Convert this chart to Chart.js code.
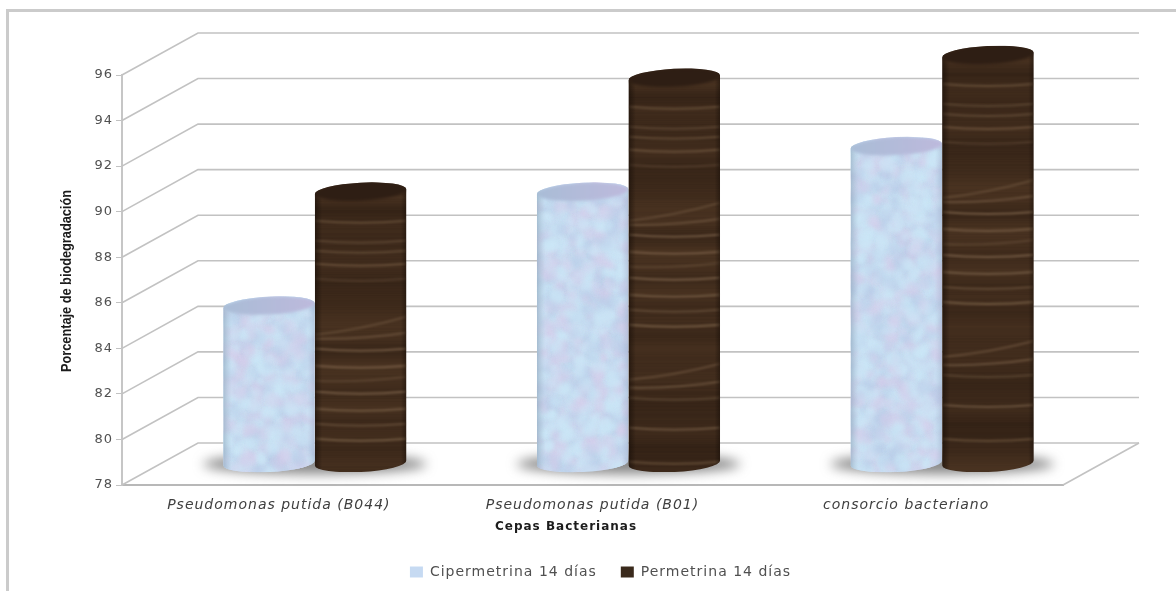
<!DOCTYPE html>
<html>
<head>
<meta charset="utf-8">
<style>
  html, body { margin: 0; padding: 0; background: #fff; }
  canvas { display: block; }
</style>
<script src="https://cdn.jsdelivr.net/npm/chart.js@4/dist/chart.umd.js"></script>
</head>
<body>
<canvas id="myChart" width="1176" height="591"></canvas>
<script>
const categories = ['Pseudomonas putida (B044)', 'Pseudomonas putida (B01)', 'consorcio bacteriano'];
const cipermetrina = [85, 90, 92];
const permetrina = [90, 95, 96];
const yMin = 78;
const yMax = 96;
const yStep = 2;
const xTitle = 'Cepas Bacterianas';
const yTitle = 'Porcentaje de biodegradación';

// 3D box offsets: back wall relative to the front axes, and bars relative to the front axes
const wallX = 76, wallY = 42;
const barX = 36, barY = 20;
const floorLift = 2;
const capRadius = 9;
const tilt = 3 * Math.PI / 180;
const gridColor = '#c2c2c2';

// wood grain lines, distance from the top of the column; second value is the rise to the right
const grain = [[32, 0], [52, 0], [62, 0], [75, 0], [90, 0], [137, 18], [147, 6], [160, 0], [177, 0], [190, 4],
    [203, 0], [220, 0], [235, 0], [250, 0], [297, 16], [310, 6], [323, 0], [353, 0], [387, 0]];

function hash(n) {
    const s = Math.sin(n * 12.9898) * 43758.5453;
    return s - Math.floor(s);
}

function cylinderPath(ctx, x, w, top, base) {
    const dy = Math.tan(tilt) * w / 2;
    ctx.beginPath();
    ctx.ellipse(x, top, w / 2, capRadius, -tilt, Math.PI, 2 * Math.PI);
    ctx.lineTo(x + w / 2, base - dy);
    ctx.ellipse(x, base, w / 2, capRadius, -tilt, 0, Math.PI);
    ctx.lineTo(x - w / 2, top + dy);
    ctx.closePath();
}

function capPath(ctx, x, w, top) {
    ctx.beginPath();
    ctx.ellipse(x, top, w / 2, capRadius, -tilt, 0, 2 * Math.PI);
}

function drawWood(ctx, x, w, top, base) {
    const left = x - w / 2;
    const startY = top - capRadius;
    for (let y = Math.floor(startY); y < base + capRadius; y++) {
        const d = y - startY;
        const a = hash(Math.floor(d / 14)), b = hash(Math.floor(d / 14) + 1);
        const t = d / 14 - Math.floor(d / 14);
        const k = 0.85 * (a + (b - a) * t) + 0.15 * hash(d + 5);
        const r = Math.round(50 + 24 * k), g = Math.round(33 + 18 * k), b2 = Math.round(21 + 12 * k);
        ctx.fillStyle = `rgb(${r},${g},${b2})`;
        ctx.fillRect(left, y, w, 1);
    }
    ctx.save();
    ctx.filter = 'blur(0.9px)';
    ctx.lineWidth = 2;
    grain.forEach(([d, rise], i) => {
        const y = startY + 6 + d;
        if (y > base + capRadius) return;
        ctx.strokeStyle = `rgba(132,106,80,${0.25 + 0.5 * hash(i + 3)})`;
        ctx.beginPath();
        ctx.moveTo(left, y + rise / 2);
        ctx.quadraticCurveTo(x, y + 4, left + w, y - rise / 2);
        ctx.stroke();
    });
    ctx.restore();
    const shade = ctx.createLinearGradient(left, 0, left + w, 0);
    shade.addColorStop(0, 'rgba(18,10,5,0.55)');
    shade.addColorStop(0.08, 'rgba(18,10,5,0)');
    shade.addColorStop(0.94, 'rgba(18,10,5,0)');
    shade.addColorStop(1, 'rgba(18,10,5,0.45)');
    ctx.fillStyle = shade;
    ctx.fillRect(left, startY, w, base + capRadius - startY);
}

function drawMottle(ctx, x, w, top, base) {
    const left = x - w / 2;
    const startY = top - capRadius;
    const h = base + capRadius - startY;
    ctx.fillStyle = '#c9dcf1';
    ctx.fillRect(left, startY, w, h);
    const count = Math.round(w * h / 30);
    ctx.save();
    ctx.filter = 'blur(2px)';
    for (let i = 0; i < count; i++) {
        const px = left + hash(i + x) * w;
        const py = startY + hash(i * 2 + 7 + x) * h;
        const r = 2 + hash(i * 3 + 11) * 6;
        const t = hash(i * 5 + 13);
        ctx.fillStyle = t < 0.3 ? 'rgba(214,206,234,0.4)' : t < 0.75 ? 'rgba(204,232,248,0.5)' : 'rgba(186,206,232,0.4)';
        ctx.beginPath();
        ctx.arc(px, py, r, 0, 2 * Math.PI);
        ctx.fill();
    }
    ctx.restore();
    const shade = ctx.createLinearGradient(left, 0, left + w, 0);
    shade.addColorStop(0, 'rgba(130,155,175,0.5)');
    shade.addColorStop(0.09, 'rgba(160,180,200,0)');
    shade.addColorStop(0.92, 'rgba(160,170,200,0)');
    shade.addColorStop(1, 'rgba(130,140,170,0.3)');
    ctx.fillStyle = shade;
    ctx.fillRect(left, startY, w, h);
}

// back wall, side wall and floor of the 3D box
const walls = {
    id: 'walls',
    beforeLayout(chart) {
        chart.ctx.letterSpacing = '1px';
    },
    afterLayout(chart) {
        // legend sits centred under the whole box rather than the axis area
        chart.legend.left += 41;
        chart.legend.right += 41;
    },
    beforeDraw(chart) {
        const ctx = chart.ctx;
        ctx.letterSpacing = '1px';
        ctx.save();
        ctx.fillStyle = '#fff';
        ctx.fillRect(0, 0, chart.width, chart.height);
        ctx.fillStyle = '#cbcbcb';
        ctx.fillRect(6, 9, chart.width - 6, 3);
        ctx.fillRect(6, 9, 3, chart.height - 9);
        ctx.restore();
    },
    beforeDatasetsDraw(chart) {
        const ctx = chart.ctx;
        const { left, right, bottom } = chart.chartArea;
        const y = chart.scales.y;
        ctx.save();
        ctx.strokeStyle = gridColor;
        ctx.lineWidth = 1.6;
        y.ticks.forEach(t => {
            const py = y.getPixelForValue(t.value);
            ctx.beginPath();
            ctx.moveTo(left, py);
            ctx.lineTo(left + wallX, py - wallY);
            ctx.lineTo(right + wallX, py - wallY);
            ctx.stroke();
        });
        ctx.beginPath();
        ctx.moveTo(right, bottom);
        ctx.lineTo(right + wallX, bottom - wallY);
        ctx.stroke();
        ctx.restore();
    },
    beforeDatasetDraw() {
        return false;
    }
};

// columns are drawn from the bar elements' own positions
const cylinders = {
    id: 'cylinders',
    afterDatasetsDraw(chart) {
        const ctx = chart.ctx;
        const metas = [chart.getDatasetMeta(0), chart.getDatasetMeta(1)];
        const floor = chart.scales.y.getPixelForValue(yMin) - barY - floorLift;
        ctx.save();
        ctx.filter = 'blur(6px)';
        ctx.fillStyle = 'rgba(95,95,95,0.75)';
        categories.forEach((c, i) => {
            const a = metas[0].data[i], b = metas[1].data[i];
            ctx.beginPath();
            ctx.ellipse((a.x + b.x) / 2 + barX, floor + 1, a.width * 1.22, 10, 0, 0, 2 * Math.PI);
            ctx.fill();
        });
        ctx.restore();
        metas.forEach((meta, m) => {
            meta.data.forEach(bar => {
                const x = bar.x + barX;
                const top = bar.y - barY;
                ctx.save();
                cylinderPath(ctx, x, bar.width, top, floor);
                ctx.clip();
                if (m === 0) drawMottle(ctx, x, bar.width, top, floor);
                else drawWood(ctx, x, bar.width, top, floor);
                capPath(ctx, x, bar.width, top);
                if (m === 0) {
                    const g = ctx.createLinearGradient(x - bar.width / 2, 0, x + bar.width / 2, 0);
                    g.addColorStop(0, '#a9bcd6');
                    g.addColorStop(1, '#bdb9dc');
                    ctx.fillStyle = g;
                } else {
                    ctx.fillStyle = '#2e1e14';
                }
                ctx.filter = 'blur(1.5px)';
                ctx.fill();
                ctx.restore();
            });
        });
    },
    // axis titles: the y one is narrow and squeezed, the x one sits left of the axis centre
    afterDraw(chart) {
        const ctx = chart.ctx;
        const { top, bottom } = chart.chartArea;
        ctx.save();
        ctx.fillStyle = '#1c1c1c';
        ctx.textAlign = 'center';
        ctx.textBaseline = 'middle';
        ctx.font = 'bold 12px "DejaVu Sans"';
        ctx.fillText(xTitle, 566, bottom + 42);
        ctx.translate(67, (top + bottom) / 2 + 1);
        ctx.rotate(-Math.PI / 2);
        ctx.scale(0.91, 1);
        ctx.letterSpacing = '0px';
        ctx.font = 'bold 14px "Liberation Sans"';
        ctx.fillText(yTitle, 0, 0);
        ctx.restore();
    }
};

const ctx = document.getElementById('myChart').getContext('2d');
const myChart = new Chart(ctx, {
    type: 'bar',
    data: {
        labels: categories,
        datasets: [{
            label: 'Cipermetrina 14 días',
            data: cipermetrina,
            base: yMin,
            backgroundColor: '#c6daf2',
            borderWidth: 0
        }, {
            label: 'Permetrina 14 días',
            data: permetrina,
            base: yMin,
            backgroundColor: '#3a2a1c',
            borderWidth: 0
        }]
    },
    options: {
        responsive: false,
        animation: false,
        events: [],
        datasets: {
            bar: {
                categoryPercentage: 0.584,
                barPercentage: 1
            }
        },
        layout: {
            padding: { left: 56, right: 113, top: 75, bottom: 2 }
        },
        scales: {
            x: {
                grid: { display: false },
                border: { color: '#b8b8b8', width: 2 },
                ticks: {
                    color: '#404040',
                    padding: 4,
                    maxRotation: 0,
                    font: { family: 'DejaVu Sans', size: 14, style: 'italic' }
                },
                afterFit(scale) { scale.height = 56; }
            },
            y: {
                min: yMin,
                max: yMax,
                grid: { drawOnChartArea: false, color: gridColor, tickLength: 6 },
                border: { color: '#c6c6c6', width: 2 },
                ticks: {
                    stepSize: yStep,
                    color: '#505050',
                    padding: 3,
                    font: { family: 'DejaVu Sans', size: 13 }
                },
                afterFit(scale) { scale.width = 66; }
            }
        },
        plugins: {
            tooltip: { enabled: false },
            legend: {
                position: 'bottom',
                labels: {
                    color: '#505050',
                    boxWidth: 13,
                    boxHeight: 11,
                    padding: 24,
                    font: { family: 'DejaVu Sans', size: 14 }
                }
            }
        }
    },
    plugins: [walls, cylinders]
});
</script>
</body>
</html>
